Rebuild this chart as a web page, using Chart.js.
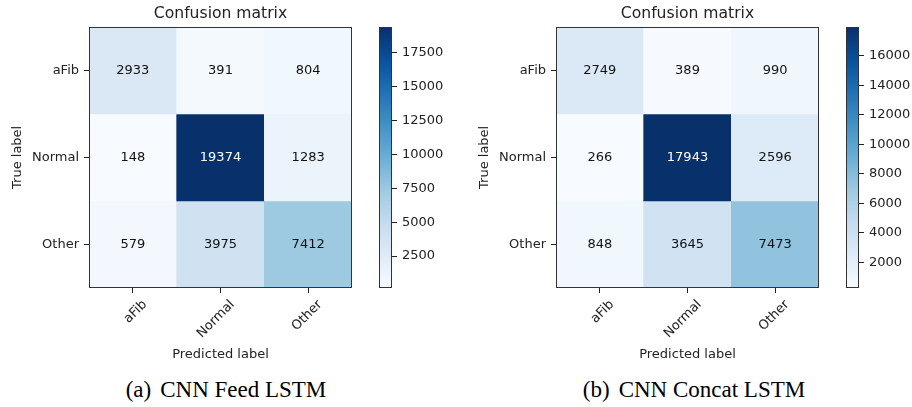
<!DOCTYPE html>
<html>
<head>
<meta charset="utf-8">
<script src="https://cdn.jsdelivr.net/npm/chart.js@4.4.0/dist/chart.umd.min.js"></script>
<style>
    body { margin: 0; background: #fff; width: 912px; height: 407px; position: relative; overflow: hidden; font-family: 'DejaVu Sans', sans-serif; }
    .box { position: absolute; top: 0; height: 370px; }
    .cap { position: absolute; top: 378px; font-family: 'Liberation Serif', serif; font-size: 23px; line-height: 24px; color: #000; white-space: nowrap; transform: translateX(-50%); }
    .cap span { margin-right: 9px; }
</style>
</head>
<body>
<div class="box" style="left:0;width:360px"><canvas id="feedMatrix"></canvas></div>
<div class="box" style="left:360px;width:100px"><canvas id="feedBar"></canvas></div>
<div class="box" style="left:467px;width:360px"><canvas id="concatMatrix"></canvas></div>
<div class="box" style="left:827px;width:85px"><canvas id="concatBar"></canvas></div>
<div class="cap" style="left:226px"><span>(a)</span>CNN Feed LSTM</div>
<div class="cap" style="left:694px"><span>(b)</span>CNN Concat LSTM</div>
<script>
// class names, used for both axes
const classLabels = ['aFib', 'Normal', 'Other'];

// rows = true label, columns = predicted label
const feedLstm = [
    [2933, 391, 804],
    [148, 19374, 1283],
    [579, 3975, 7412]
];
const concatLstm = [
    [2749, 389, 990],
    [266, 17943, 2596],
    [848, 3645, 7473]
];

// colorbar ticks
const feedTicks = [2500, 5000, 7500, 10000, 12500, 15000, 17500];
const concatTicks = [2000, 4000, 6000, 8000, 10000, 12000, 14000, 16000];

// matplotlib "Blues" colormap stops
const bluesStops = ['#f7fbff', '#deebf7', '#c6dbef', '#9ecae1', '#6baed6', '#4292c6', '#2171b5', '#08519c', '#08306b'];

function hexToRgb(h) {
    return [parseInt(h.substr(1, 2), 16), parseInt(h.substr(3, 2), 16), parseInt(h.substr(5, 2), 16)];
}

function blues(t) {
    t = Math.max(0, Math.min(1, t));
    const pos = t * (bluesStops.length - 1);
    const i = Math.min(Math.floor(pos), bluesStops.length - 2);
    const f = pos - i;
    const a = hexToRgb(bluesStops[i]);
    const b = hexToRgb(bluesStops[i + 1]);
    const c = a.map((v, k) => Math.round(v + (b[k] - v) * f));
    return 'rgb(' + c.join(',') + ')';
}

const textColor = '#222';
const tickFont = { family: 'DejaVu Sans', size: 13 };

// box around the plot area
const framePlugin = {
    id: 'frame',
    afterDraw(chart) {
        const { ctx, chartArea: a } = chart;
        ctx.save();
        ctx.strokeStyle = '#333';
        ctx.lineWidth = 1;
        ctx.strokeRect(Math.round(a.left) + 0.5, Math.round(a.top) + 0.5,
            Math.round(a.right - a.left) - 1, Math.round(a.bottom - a.top) - 1);
        ctx.restore();
    }
};

// counts written in each cell
const cellTextPlugin = {
    id: 'cellText',
    afterDatasetsDraw(chart) {
        const ctx = chart.ctx;
        const thresh = chart.options.plugins.cellText.thresh;
        ctx.save();
        ctx.font = '13px "DejaVu Sans"';
        ctx.textAlign = 'center';
        ctx.textBaseline = 'middle';
        chart.data.datasets.forEach((ds, i) => {
            chart.getDatasetMeta(i).data.forEach((bar, j) => {
                const p = bar.getCenterPoint();
                const v = ds.values[j];
                ctx.fillStyle = v > thresh ? '#fff' : '#111';
                ctx.fillText(String(v), p.x, p.y);
            });
        });
        ctx.restore();
    }
};

function makeMatrix(id, matrix) {
    const flat = matrix.flat();
    const min = Math.min(...flat);
    const max = Math.max(...flat);

    const datasets = matrix.map((row, i) => ({
        label: classLabels[i],
        data: row.map(() => 1),
        values: row,
        backgroundColor: row.map(v => blues((v - min) / (max - min))),
        borderWidth: 0,
        barPercentage: 1,
        categoryPercentage: 1
    }));

    return new Chart(document.getElementById(id), {
        type: 'bar',
        data: { labels: classLabels, datasets: datasets },
        options: {
            responsive: true,
            maintainAspectRatio: false,
            animation: false,
            layout: { padding: { left: 0, right: 8, top: 0, bottom: 0 } },
            plugins: {
                legend: { display: false },
                tooltip: { enabled: false },
                title: {
                    display: true,
                    fullSize: false,
                    text: 'Confusion matrix',
                    color: textColor,
                    font: { family: 'DejaVu Sans', size: 15.6, weight: 'normal' },
                    padding: { top: 4.5, bottom: 3.5 }
                },
                cellText: { thresh: max / 2 }
            },
            scales: {
                x: {
                    stacked: true,
                    grid: { offset: false, drawOnChartArea: false, tickLength: 5, color: textColor },
                    border: { display: false },
                    ticks: { color: textColor, font: tickFont, minRotation: 45, maxRotation: 45, labelOffset: 12, padding: 4 },
                    title: {
                        display: true,
                        text: 'Predicted label',
                        color: textColor,
                        font: tickFont,
                        padding: { top: 0, bottom: 8 }
                    },
                    afterFit: function(scale) { scale.height = 82; }
                },
                y: {
                    type: 'linear',
                    stacked: true,
                    reverse: true,
                    min: 0,
                    max: 3,
                    afterBuildTicks: function(scale) {
                        scale.ticks = classLabels.map((_, i) => ({ value: i + 0.5 }));
                    },
                    grid: { drawOnChartArea: false, tickLength: 5, color: textColor },
                    border: { display: false },
                    ticks: {
                        color: textColor,
                        font: tickFont,
                        padding: 5,
                        callback: function(value, index) { return classLabels[index]; }
                    },
                    title: {
                        display: true,
                        text: 'True label',
                        color: textColor,
                        font: tickFont,
                        padding: { top: 10, bottom: 0 }
                    },
                    afterFit: function(scale) { scale.width = 89; }
                }
            }
        },
        plugins: [cellTextPlugin, framePlugin]
    });
}

function makeColorbar(id, matrix, ticks, axisWidth) {
    const flat = matrix.flat();
    const min = Math.min(...flat);
    const max = Math.max(...flat);

    return new Chart(document.getElementById(id), {
        type: 'bar',
        data: {
            labels: [''],
            datasets: [{
                data: [[min, max]],
                borderWidth: 0,
                barPercentage: 1,
                categoryPercentage: 1,
                backgroundColor: function(context) {
                    const chart = context.chart;
                    if (!chart.chartArea) return bluesStops[0];
                    const y = chart.scales.y;
                    const g = chart.ctx.createLinearGradient(0, y.getPixelForValue(min), 0, y.getPixelForValue(max));
                    bluesStops.forEach((c, k) => g.addColorStop(k / (bluesStops.length - 1), c));
                    return g;
                }
            }]
        },
        options: {
            responsive: true,
            maintainAspectRatio: false,
            animation: false,
            layout: { padding: { left: 19, right: 0, top: 27, bottom: 82 } },
            plugins: {
                legend: { display: false },
                tooltip: { enabled: false }
            },
            scales: {
                x: { display: false },
                y: {
                    position: 'right',
                    min: min,
                    max: max,
                    afterBuildTicks: function(scale) {
                        scale.ticks = ticks.map(v => ({ value: v }));
                    },
                    grid: { drawOnChartArea: false, tickLength: 5, color: textColor },
                    border: { display: false },
                    ticks: {
                        color: textColor,
                        font: tickFont,
                        padding: 5,
                        callback: function(value) { return String(value); }
                    },
                    afterFit: function(scale) { scale.width = axisWidth; }
                }
            }
        },
        plugins: [framePlugin]
    });
}

makeMatrix('feedMatrix', feedLstm);
makeColorbar('feedBar', feedLstm, feedTicks, 68);
makeMatrix('concatMatrix', concatLstm);
makeColorbar('concatBar', concatLstm, concatTicks, 53);
</script>
</body>
</html>
